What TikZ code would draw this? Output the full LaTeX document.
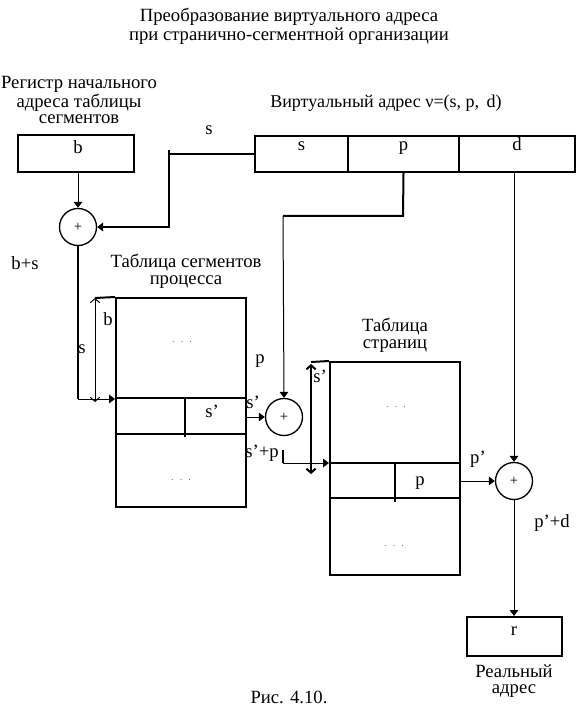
\documentclass[tikz,border=0pt]{standalone}
\usepackage{fontspec}
\setmainfont{Liberation Serif}
\usetikzlibrary{arrows.meta}
\newlength\px
\setlength\px{0.75pt}

\begin{document}
\begin{tikzpicture}[x=0.75pt,y=-0.75pt,
	every node/.style={font=\fontsize{14}{12.5}\selectfont, inner sep=0pt},
	txt/.style={anchor=base},
	frame/.style={draw, line width=1.5pt},
	sum/.style={draw, circle, line width=1pt, minimum size=37\px, font=\fontsize{11}{11}\selectfont},
	arr/.style={-{Triangle[length=4.5pt,width=6.5pt]}},
	dim/.style={{Straight Barb[length=3pt,width=7pt]}-{Straight Barb[length=3pt,width=7pt]}},
	thin/.style={line width=0.75pt},
	thick/.style={line width=1.5pt}]
	\useasboundingbox (0,0) rectangle (579,716);

	% titles
	\node[align=center, font=\fontsize{14}{14.3}\selectfont] (title) at (289,26) {Преобразование виртуального адреса\\при странично-сегментной организации};
	\node[align=center] (reglbl) at (79,100) {Регистр начального\\адреса таблицы\\сегментов};
	\node[txt, font=\fontsize{13.5}{13.5}\selectfont] (valbl) at (386,108) {Виртуальный адрес ν=(s, p,\, d)};
	\node[align=center] (seglbl) at (186,271) {Таблица сегментов\\процесса};
	\node[align=center] (pglbl) at (395,335) {Таблица\\страниц};
	\node[align=center] (rlbl) at (514,681) {Реальный\\адрес};
	\node[txt] (fig) at (289,703) {Рис. 4.10.};

	% boxes
	\node[frame, minimum width=116\px, minimum height=37\px] (reg) at (76,153.5) {};
	\node[frame, minimum width=93\px, minimum height=36\px] (vas) at (301.5,154) {};
	\node[frame, minimum width=111\px, minimum height=36\px] (vap) at (403.5,154) {};
	\node[frame, minimum width=116\px, minimum height=36\px] (vad) at (517,154) {};
	\node[frame, minimum width=130\px, minimum height=209\px] (segtab) at (181,402.5) {};
	\node[frame, minimum width=130\px, minimum height=213\px] (pagetab) at (395,468.5) {};
	\node[frame, minimum width=95\px, minimum height=39\px] (rbox) at (514.5,636.5) {};

	% adders
	\foreach \n/\x/\y in {sum1/78/227, sum2/284/417, sum3/514/481}
	{	\node[sum] (\n) at (\x,\y) {+};
	}

	% rows of the tables
	\draw[thick] (116,398) -- (246,398) (116,434) -- (246,434) (185,398) -- (185,437);
	\draw[thick] (330,463) -- (460,463) (330,498) -- (460,498) (395,463) -- (395,502);
	\draw[thick] (95,298) -- (segtab.north west);
	\draw[thick] (311,362) -- (pagetab.north west);

	% texts in the boxes
	\node[txt] at (78,154) {b};
	\node[txt] at (vas |- 0,151) {s};
	\node[txt] at (vap |- 0,151) {p};
	\node[txt] at (vad |- 0,151) {d};
	\node[txt] at (212,417) {s’};
	\node[txt] at (420,485) {p};
	\node[txt] at (514,635) {r};
	\foreach \x/\y in {182/342, 181/480, 396/407, 394/546}
	{	\node[font=\fontsize{6}{6}\selectfont] at (\x,\y) {.\hspace{5pt}.\hspace{5pt}.};
	}

	% connectors
	\coordinate (sbend) at (169,150);
	\coordinate (pbend) at (403,216);
	\coordinate (bsbend) at (78,399);
	\coordinate (spbend) at (283,450);
	\draw[thin, arr] (reg.south -| sum1) -- (sum1.north);
	\draw[thick] (vas.west) -- (sbend |- vas.west);
	\draw[thick, arr] (sbend) |- (sum1.east);
	\draw[thick] (vap.south) -- (pbend) -- (pbend -| 283,0);
	\draw[thin, arr] (pbend -| 283,0) -- (sum2.north);
	\draw[thin, arr] (vad.south -| sum3) -- (sum3.north);
	\draw[thick] (sum1.south) -- (bsbend);
	\draw[thin, arr] (bsbend) -- (bsbend -| segtab.west);
	\draw[thin, dim] (95,298) -- (95,402);
	\draw[thin, arr] (segtab.east |- sum2) -- (sum2.west);
	\draw[thick] (spbend) -- (spbend |- 0,463);
	\draw[thin, arr] (spbend |- 0,463) -- (pagetab.west |- 0,463);
	\draw[thick, dim] (311,364) -- (311,474);
	\draw[thin, arr] (pagetab.east |- sum3) -- (sum3.west);
	\draw[thin, arr] (sum3.south) -- (rbox.north -| sum3);

	% labels on the connectors
	\node[txt] at (209,135) {s};
	\node[txt] at (25,270) {b+s};
	\node[txt] at (82,353) {s};
	\node[txt] at (108,325) {b};
	\node[txt] at (260,363) {p};
	\node[txt] at (253,408) {s’};
	\node[txt] at (262,457) {s’+p};
	\node[txt] at (320,382) {s’};
	\node[txt] at (478,463) {p’};
	\node[txt] at (552,527) {p’+d};
\end{tikzpicture}
\end{document}
